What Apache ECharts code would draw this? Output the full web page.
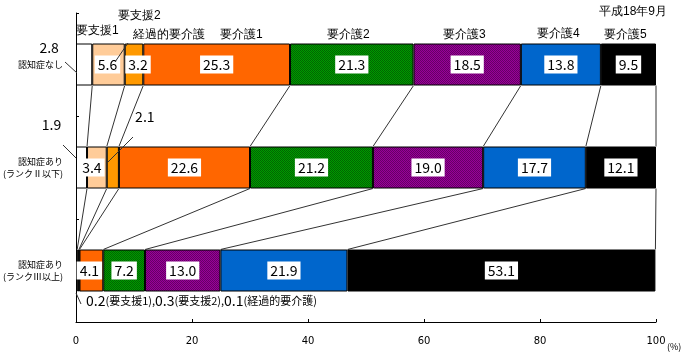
<!DOCTYPE html>
<html><head><meta charset="utf-8">
<script src="https://cdn.jsdelivr.net/npm/echarts@6/dist/echarts.min.js"></script>
<style>html,body{margin:0;padding:0;background:#fff}#c{width:690px;height:361px}</style>
</head><body><div id="c"></div>
<script>
const categories = ['認知症なし', '認知症あり\n(ランクⅡ以下)', '認知症あり\n(ランクⅢ以上)'];
const seriesNames = ['要支援1', '要支援2', '経過的要介護', '要介護1', '要介護2', '要介護3', '要介護4', '要介護5'];
const shien1 = [2.8, 1.9, 0.2];
const shien2 = [5.6, 3.4, 0.3];
const keika  = [3.2, 2.1, 0.1];
const kaigo1 = [25.3, 22.6, 4.1];
const kaigo2 = [21.3, 21.2, 7.2];
const kaigo3 = [18.5, 19.0, 13.0];
const kaigo4 = [13.8, 17.7, 21.9];
const kaigo5 = [9.5, 12.1, 53.1];
const xTicks = [0, 20, 40, 60, 80, 100];

const allSeries = [shien1, shien2, keika, kaigo1, kaigo2, kaigo3, kaigo4, kaigo5];

function checker(a, b) {
  const c = document.createElement('canvas'); c.width = 2; c.height = 2;
  const g = c.getContext('2d');
  g.fillStyle = a; g.fillRect(0, 0, 2, 2);
  g.fillStyle = b; g.fillRect(0, 0, 1, 1); g.fillRect(1, 1, 1, 1);
  return { image: c, repeat: 'repeat' };
}
const colors = ['#FFFFFF', '#FFCC99', '#FF9900', '#FF6600', checker('#009900', '#006600'), checker('#990099', '#660066'), '#0066CC', '#000000'];

// label tweaks: key "series-category"
const labelTweaks = {
  '0-0': { offset: [-35, -17], backgroundColor: 'transparent' },
  '0-1': { offset: [-30, -43], backgroundColor: 'transparent' },
  '0-2': { show: false },
  '1-0': { offset: [-1, 0] },
  '1-1': { offset: [-5, 0] },
  '1-2': { show: false },
  '2-0': { offset: [4, 0] },
  '2-1': { offset: [32, -51], backgroundColor: 'transparent' },
  '2-2': { show: false },
  '3-2': { offset: [-2, 0] }
};

const barSeries = allSeries.map((arr, si) => ({
  name: seriesNames[si],
  type: 'bar',
  stack: 'total',
  barWidth: 42,
  itemStyle: { color: colors[si], borderColor: '#000', borderWidth: 1 },
  label: {
    show: true, position: 'inside', color: '#000', fontSize: 14,
    fontFamily: 'Noto Sans CJK JP', backgroundColor: '#fff', padding: [2, 3],
    formatter: p => p.value.toFixed(1)
  },
  data: arr.map((v, ci) => {
    const t = labelTweaks[si + '-' + ci];
    return t ? { value: v, label: t } : v;
  })
}));

// connectors between stacked boundaries of adjacent bars
function cum(ci) { let s = 0; return allSeries.map(a => (s += a[ci])); }
const connData = [];
for (let ci = 0; ci < categories.length - 1; ci++) {
  const a = cum(ci), b = cum(ci + 1);
  for (let k = 0; k < a.length; k++) connData.push([a[k], b[k], ci]);
}

const chart = echarts.init(document.getElementById('c'), null, { renderer: 'canvas' });
const txt = (x, y, s, fs) => ({ type: 'text', left: x, top: y, style: { text: s, fontSize: fs || 12, fill: '#000', font: (fs || 12) + 'px "Noto Sans CJK JP"' } });
const ln = (x1, y1, x2, y2) => ({ type: 'line', shape: { x1, y1, x2, y2 }, style: { stroke: '#333', lineWidth: 1 }, z: 10 });

chart.setOption({
  animation: false,
  backgroundColor: '#fff',
  grid: { left: 76, right: 34, top: 13, bottom: 39, containLabel: false, outerBoundsMode: 'none' },
  xAxis: {
    type: 'value', min: 0, max: 100, interval: 20,
    axisLine: { show: true, lineStyle: { color: '#000' } },
    axisTick: { show: true, inside: true, length: 3, lineStyle: { color: '#000' } },
    splitLine: { show: false },
    axisLabel: { color: '#000', fontSize: 10, margin: 14, fontFamily: 'DejaVu Sans' }
  },
  yAxis: {
    type: 'category', inverse: true, data: categories,
    axisLine: { show: true, lineStyle: { color: '#000' } },
    axisTick: { show: true, inside: true, length: 3, lineStyle: { color: '#000' } },
    axisLabel: { color: '#000', fontSize: 9, lineHeight: 12, margin: 13, fontFamily: 'Noto Sans CJK JP' }
  },
  series: barSeries.concat([{
    type: 'custom',
    data: connData,
    encode: { x: [0, 1], y: 2 },
    z: 1,
    silent: true,
    renderItem: (params, api) => {
      const half = 21;
      const p1 = api.coord([api.value(0), api.value(2)]);
      const p2 = api.coord([api.value(1), api.value(2) + 1]);
      return { type: 'line', shape: { x1: p1[0], y1: p1[1] + half, x2: p2[0], y2: p2[1] - half },
        style: { stroke: '#333', lineWidth: 1 } };
    }
  }]),
  graphic: [
    txt(76, 25, '要支援1'),
    txt(118, 10, '要支援2'),
    txt(133, 29, '経過的要介護'),
    txt(220, 29, '要介護1'),
    txt(327, 29, '要介護2'),
    txt(443, 29, '要介護3'),
    txt(537, 28, '要介護4'),
    txt(604, 29, '要介護5'),
    txt(599, 6, '平成18年9月'),
    { type: 'text', left: 667, top: 342, style: { text: '(%)', fill: '#000', font: '9px "Noto Sans CJK JP"' } },
    { type: 'text', left: 86, top: 294, style: {
        text: '{n|0.2}{s|(要支援1),}{n|0.3}{s|(要支援2),}{n|0.1}{s|(経過的要介護)}',
        rich: { n: { fontSize: 14, fill: '#000', fontFamily: 'Noto Sans CJK JP' }, s: { fontSize: 11, fill: '#000', fontFamily: 'Noto Sans CJK JP' } }
    } },
    ln(65, 62, 77, 73),
    ln(128, 43, 115, 62),
    ln(63, 145, 76, 158),
    ln(133, 137, 108, 162),
    ln(76, 293, 81, 304)
  ]
});
</script></body></html>
